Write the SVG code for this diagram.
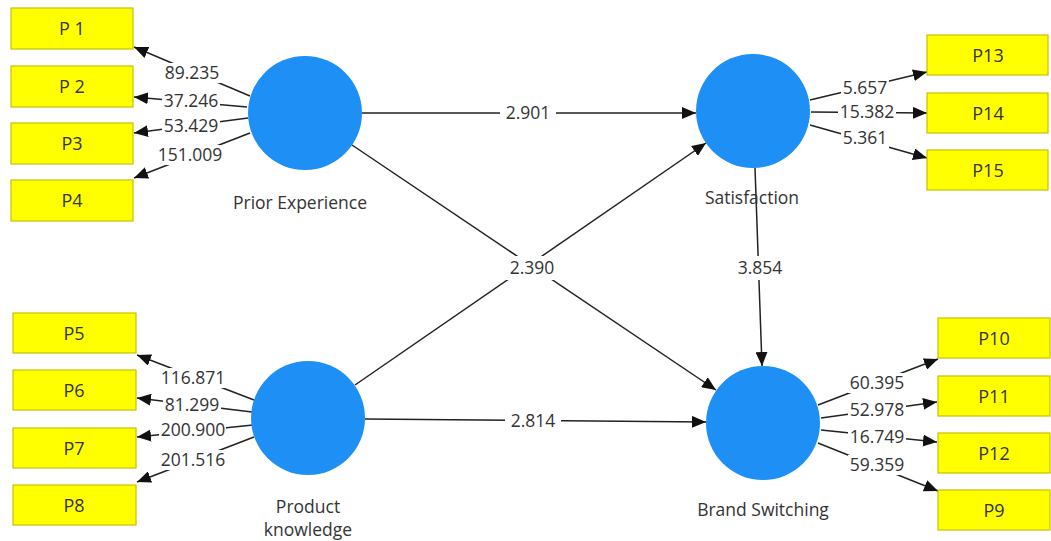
<svg xmlns="http://www.w3.org/2000/svg" width="1051" height="541" viewBox="0 0 1051 541">
<style>
.box{fill:#ffff00;stroke:#c9c000;stroke-width:1.2}
.bt{font-family:"Open Sans","Noto Sans",sans-serif;font-size:18px;fill:#333;text-anchor:middle}
.lv{fill:#1e8ff5}
.lt{font-family:"Open Sans","Noto Sans",sans-serif;font-size:17.5px;fill:#333;text-anchor:middle}
.cn{stroke:#222;stroke-width:1.5;fill:none;marker-end:url(#ah)}
.bg{fill:#fff}
.nt{font-family:"Open Sans","Noto Sans",sans-serif;font-size:17.5px;fill:#333;text-anchor:middle}
</style>
<defs>
<marker id="ah" viewBox="0 0 14 12" refX="14" refY="6" markerWidth="14" markerHeight="12" markerUnits="userSpaceOnUse" orient="auto">
<path d="M0,0 L14,6 L0,12 z" fill="#111"/>
</marker>
</defs>
<rect width="1051" height="541" fill="#fff"/>
<g id="connectors">
<line class="cn" x1="250" y1="96" x2="134" y2="47"/>
<line class="cn" x1="247" y1="107" x2="134" y2="97"/>
<line class="cn" x1="248" y1="118" x2="134" y2="133"/>
<line class="cn" x1="250" y1="133" x2="134" y2="178"/>
<line class="cn" x1="254" y1="400" x2="137" y2="355"/>
<line class="cn" x1="252" y1="412" x2="137" y2="398"/>
<line class="cn" x1="253" y1="425" x2="137" y2="437"/>
<line class="cn" x1="254" y1="437" x2="137" y2="482"/>
<line class="cn" x1="810" y1="100" x2="927" y2="72"/>
<line class="cn" x1="811" y1="112" x2="927" y2="113"/>
<line class="cn" x1="810" y1="125" x2="927" y2="158"/>
<line class="cn" x1="818" y1="405" x2="938" y2="359"/>
<line class="cn" x1="821" y1="418" x2="937" y2="402"/>
<line class="cn" x1="821" y1="430" x2="937" y2="442"/>
<line class="cn" x1="818" y1="443" x2="938" y2="491"/>
<line class="cn" x1="362" y1="113" x2="696" y2="113"/>
<line class="cn" x1="352" y1="145" x2="716" y2="390"/>
<line class="cn" x1="355" y1="385" x2="706" y2="143"/>
<line class="cn" x1="365" y1="419" x2="706" y2="422"/>
<line class="cn" x1="755" y1="168" x2="762" y2="366"/>
<g id="weights">
<rect class="bg" x="163" y="63" width="58" height="20"/><text class="nt" x="192" y="79">89.235</text>
<rect class="bg" x="162" y="91" width="58" height="20"/><text class="nt" x="191" y="107">37.246</text>
<rect class="bg" x="162" y="116" width="58" height="20"/><text class="nt" x="191" y="132">53.429</text>
<rect class="bg" x="157" y="145" width="67" height="20"/><text class="nt" x="190" y="161">151.009</text>
<rect class="bg" x="159" y="368" width="67" height="20"/><text class="nt" x="193" y="384">116.871</text>
<rect class="bg" x="163" y="395" width="58" height="20"/><text class="nt" x="192" y="411">81.299</text>
<rect class="bg" x="159" y="420" width="67" height="20"/><text class="nt" x="193" y="436">200.900</text>
<rect class="bg" x="159" y="450" width="67" height="20"/><text class="nt" x="193" y="466">201.516</text>
<rect class="bg" x="841" y="78" width="48" height="20"/><text class="nt" x="865" y="94">5.657</text>
<rect class="bg" x="838" y="102" width="58" height="20"/><text class="nt" x="867" y="118">15.382</text>
<rect class="bg" x="841" y="128" width="48" height="20"/><text class="nt" x="865" y="144">5.361</text>
<rect class="bg" x="848" y="373" width="58" height="20"/><text class="nt" x="877" y="389">60.395</text>
<rect class="bg" x="848" y="400" width="58" height="20"/><text class="nt" x="877" y="416">52.978</text>
<rect class="bg" x="848" y="427" width="58" height="20"/><text class="nt" x="877" y="443">16.749</text>
<rect class="bg" x="848" y="455" width="58" height="20"/><text class="nt" x="877" y="471">59.359</text>
<rect class="bg" x="500" y="103" width="56" height="20"/><text class="nt" x="528" y="119">2.901</text>
<rect class="bg" x="503" y="256" width="58" height="24"/><text class="nt" x="532" y="274">2.390</text>
<rect class="bg" x="505" y="411" width="56" height="20"/><text class="nt" x="533" y="427">2.814</text>
<rect class="bg" x="733" y="256" width="54" height="24"/><text class="nt" x="760" y="274">3.854</text>
</g>
</g>
<g id="prior-experience"><circle class="lv" cx="305" cy="113" r="57"/><text class="lt" x="300" y="209">Prior Experience</text></g>
<g id="product-knowledge"><circle class="lv" cx="308" cy="418" r="57"/><text class="lt" x="308" y="513">Product</text><text class="lt" x="308" y="536">knowledge</text></g>
<g id="satisfaction"><circle class="lv" cx="753" cy="111" r="57"/><text class="lt" x="752" y="204">Satisfaction</text></g>
<g id="brand-switching"><circle class="lv" cx="763" cy="423" r="57"/><text class="lt" x="763" y="516">Brand Switching</text></g>
<g id="P1"><rect class="box" x="11" y="8" width="122" height="41"/><text class="bt" x="72" y="35">P 1</text></g>
<g id="P2"><rect class="box" x="11" y="66" width="122" height="41"/><text class="bt" x="72" y="93">P 2</text></g>
<g id="P3"><rect class="box" x="11" y="123" width="122" height="41"/><text class="bt" x="72" y="150">P3</text></g>
<g id="P4"><rect class="box" x="11" y="180" width="122" height="41"/><text class="bt" x="72" y="207">P4</text></g>
<g id="P5"><rect class="box" x="13" y="313" width="123" height="40"/><text class="bt" x="74" y="340">P5</text></g>
<g id="P6"><rect class="box" x="13" y="370" width="123" height="40"/><text class="bt" x="74" y="397">P6</text></g>
<g id="P7"><rect class="box" x="13" y="428" width="123" height="40"/><text class="bt" x="74" y="455">P7</text></g>
<g id="P8"><rect class="box" x="13" y="485" width="123" height="40"/><text class="bt" x="74" y="512">P8</text></g>
<g id="P13"><rect class="box" x="927" y="35" width="121" height="40"/><text class="bt" x="988" y="62">P13</text></g>
<g id="P14"><rect class="box" x="927" y="93" width="121" height="40"/><text class="bt" x="988" y="120">P14</text></g>
<g id="P15"><rect class="box" x="927" y="150" width="121" height="40"/><text class="bt" x="988" y="177">P15</text></g>
<g id="P10"><rect class="box" x="938" y="318" width="112" height="40"/><text class="bt" x="994" y="345">P10</text></g>
<g id="P11"><rect class="box" x="938" y="376" width="112" height="40"/><text class="bt" x="994" y="403">P11</text></g>
<g id="P12"><rect class="box" x="938" y="433" width="112" height="40"/><text class="bt" x="994" y="460">P12</text></g>
<g id="P9"><rect class="box" x="938" y="490" width="112" height="40"/><text class="bt" x="994" y="517">P9</text></g>
</svg>
